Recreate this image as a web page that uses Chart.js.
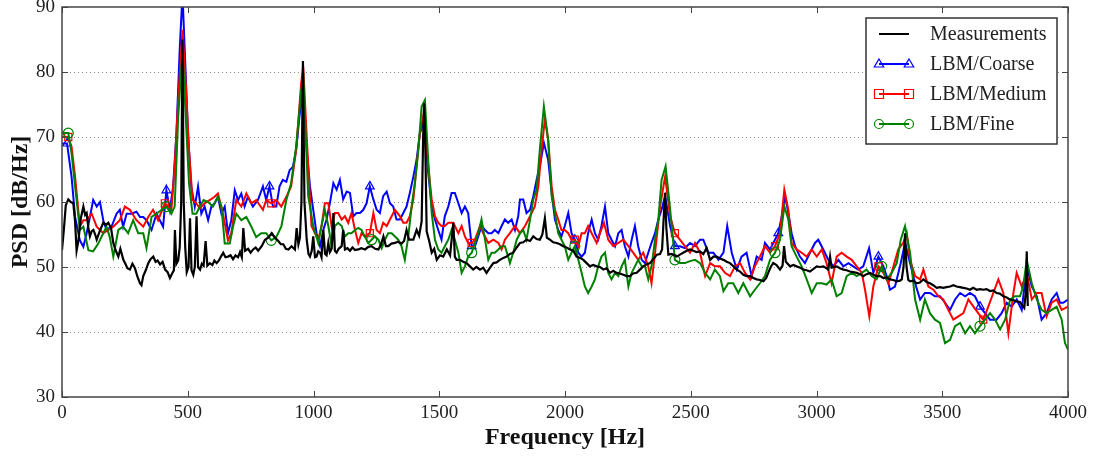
<!DOCTYPE html>
<html>
<head>
<meta charset="utf-8">
<script src="https://cdn.jsdelivr.net/npm/chart.js"></script>
<style>
  body { margin: 0; background: #fff; }
  canvas { display: block; }
</style>
</head>
<body>
<canvas id="psdChart" width="1096" height="457"></canvas>
<script>
// [frequency Hz, PSD dB/Hz]
const measurements = [
  [0,52.6],[8,56],[15,59.5],[25,60.4],[35,60.0],[45,59.8],[52,57],[58,52.5],[65,54],[75,57.5],[85,59.3],[92,58],[98,58.3],
  [105,56],[111,54.7],[118,55.5],[125,55.7],[132,55],[138,54.2],[150,55.5],[164,56.8],[175,56.5],[184,56.8],[195,56],
  [204,53.7],[214,52.5],[224,51.6],[232,52.8],[244,51.1],[252,50.5],[260,49.8],[270,49.6],[280,50.5],[290,49.8],[300,48.5],
  [310,47.5],[316,47.2],[323,48.6],[333,49.5],[343,50.6],[352,51.2],[363,51.6],[372,50.8],[380,51],[390,50.4],[400,50.8],
  [410,49.6],[420,49.2],[429,48.3],[438,49],[445,49.5],[449,55.7],[455,50.5],[462,51],[468,53],[474,60],[479,85],[484,60],
  [490,53],[496,49.2],[503,50],[509,57.5],[515,49.5],[522,48.8],[528,50],[535,57.8],[541,50],[549,49.6],[556,50.5],[563,50.2],
  [571,54],[578,50.2],[588,50.6],[598,50.3],[606,51],[615,50.6],[624,51],[632,51.6],[641,52.2],[650,51.5],[660,51.6],[670,51.8],
  [680,51.2],[690,51.8],[700,51.5],[708,52.3],[715,51.5],[721,56],[728,52.5],[740,52.8],[750,52.2],[760,52.7],[770,53],
  [780,52.5],[794,53.2],[807,54.2],[820,54.5],[834,55.2],[847,54.5],[860,54],[870,53.5],[880,53.5],[890,52.8],[900,52.7],
  [913,53.2],[926,52.7],[933,56],[940,53.5],[946,54.5],[952,60],[958,81.7],[964,60],[973,54.2],[980,52],[986,51.6],[993,52.5],
  [999,54.7],[1006,51.5],[1012,51.6],[1019,52.4],[1026,52.2],[1032,51.5],[1039,55.7],[1046,52],[1052,51.8],[1059,53.7],
  [1065,52.3],[1072,52.8],[1079,58.3],[1085,52.5],[1092,52.2],[1100,52.8],[1112,53.2],[1118,55.7],[1125,52.7],[1135,52.9],
  [1145,52.5],[1155,53],[1165,52.6],[1178,52.7],[1190,52.9],[1205,52.7],[1218,53.1],[1231,53.2],[1245,52.8],[1258,52.7],
  [1268,53.4],[1278,54.7],[1288,53.2],[1297,53.2],[1310,53.6],[1324,53.7],[1335,53.9],[1350,53.6],[1360,54],[1370,55.7],
  [1380,54.2],[1397,54.2],[1410,55.7],[1420,54.8],[1430,57],[1436,70],[1440,75.2],[1444,70],[1450,55.5],[1460,54],[1470,52.2],
  [1480,52.8],[1490,51.1],[1503,51.8],[1516,51.6],[1530,52.7],[1543,51.8],[1556,56.8],[1562,51.6],[1569,51.1],[1582,51.1],
  [1595,50.8],[1609,50.6],[1622,50.1],[1635,49.6],[1648,50.0],[1662,49.6],[1675,49.9],[1688,49.1],[1700,49.8],[1715,50.6],
  [1728,50.7],[1741,51.1],[1755,51.4],[1768,51.6],[1781,52.0],[1794,52.2],[1808,53.0],[1821,53.7],[1834,53.8],[1847,54.2],
  [1861,54.0],[1874,54.7],[1887,54.3],[1900,54.2],[1910,55.0],[1920,57.5],[1928,54.5],[1940,54.2],[1953,53.8],[1967,53.7],
  [1980,53.5],[1993,53.2],[2006,53.0],[2020,52.7],[2033,52.5],[2046,51.6],[2060,51.4],[2073,51.1],[2086,50.6],[2099,50.1],
  [2112,50.3],[2126,50.1],[2139,50.0],[2152,49.6],[2165,49.8],[2179,49.1],[2192,49.4],[2205,49.1],[2218,49.0],[2232,48.8],
  [2245,48.6],[2258,48.6],[2271,49.0],[2285,49.1],[2298,49.6],[2311,50.1],[2324,50.4],[2338,50.6],[2351,51.2],[2365,51.9],
  [2378,52.0],[2386,52.7],[2393,58],[2398,61.4],[2403,56],[2411,51.9],[2424,52.0],[2444,51.6],[2457,51.9],[2470,52.2],
  [2484,52.5],[2497,52.7],[2510,52.5],[2523,52.3],[2537,52.4],[2550,52.0],[2563,52.9],[2577,51.1],[2590,51.6],[2603,51.6],
  [2616,51.3],[2630,51.1],[2643,50.8],[2656,50.6],[2670,50.1],[2683,49.6],[2696,49.3],[2709,48.8],[2722,48.6],[2736,48.6],
  [2749,48.3],[2762,48.1],[2775,48.0],[2789,47.8],[2800,48.3],[2808,49.1],[2818,50.0],[2828,50.6],[2841,50.3],[2855,49.6],
  [2865,50.2],[2871,53.2],[2878,50.8],[2895,50.1],[2908,50.3],[2921,50.1],[2935,49.9],[2948,49.6],[2961,49.5],[2974,49.3],
  [2988,49.7],[3001,50.1],[3014,50.0],[3027,50.1],[3040,49.8],[3047,49.6],[3054,51.6],[3060,49.9],[3080,50.1],[3093,49.8],
  [3107,49.6],[3120,49.5],[3133,49.3],[3146,49.2],[3160,49.1],[3173,48.9],[3186,48.6],[3199,48.9],[3213,49.1],[3226,48.8],
  [3239,48.6],[3253,48.6],[3266,48.3],[3279,48.4],[3292,48.1],[3305,48.0],[3319,47.8],[3332,47.9],[3339,48.1],[3346,50],
  [3352,55.2],[3358,50],[3365,48.0],[3372,47.8],[3385,47.9],[3398,47.5],[3411,47.6],[3425,48.1],[3438,47.7],[3451,47.5],
  [3464,47.2],[3478,46.8],[3491,46.9],[3504,46.8],[3517,46.9],[3531,47.0],[3544,47.2],[3557,47.0],[3570,46.9],[3584,46.8],
  [3597,46.7],[3610,46.5],[3623,46.8],[3637,46.5],[3650,46.6],[3663,46.5],[3676,46.6],[3690,46.3],[3703,46.4],[3716,46.0],
  [3729,45.9],[3743,45.5],[3756,45.3],[3769,45.0],[3782,44.9],[3796,44.7],[3809,44.6],[3816,44.2],[3826,43.7],[3832,46],
  [3836,52.4],[3840,44]
];

const lbmCoarse = [
  [0,69.0],[20,69.0],[38,63.9],[52,57.7],[71,54.1],[85,53.1],[98,55.2],[111,57.7],[124,60.3],[138,59.3],[151,60.0],[164,57.2],
  [177,55.7],[197,56.2],[217,58.2],[230,58.8],[243,56.2],[257,58.2],[276,58.2],[296,58.5],[310,57.7],[323,57.7],[336,57.2],
  [356,55.7],[376,58.2],[389,57.2],[402,56.2],[415,61.8],[429,58.8],[442,62.4],[455,70.6],[468,83.4],[479,92],[488,83.4],
  [501,70.6],[514,62.4],[528,59.3],[541,62.4],[554,58.2],[567,59.3],[581,57.2],[594,59.3],[607,59.8],[620,60.8],[634,58.2],
  [647,59.3],[660,55.2],[673,57.2],[687,61.8],[700,60.3],[713,61.3],[726,59.3],[739,60.8],[759,59.3],[779,60.3],[799,62.4],
  [812,60.3],[825,62.4],[839,59.3],[852,59.3],[865,62.4],[878,63.4],[892,63.1],[905,64.9],[918,65.4],[931,68.0],[944,73.1],
  [958,77.3],[973,68.1],[986,62.4],[999,58.8],[1012,55.2],[1026,53.2],[1039,55.7],[1052,57.3],[1065,59.8],[1079,62.9],
  [1092,61.9],[1105,63.4],[1118,60.4],[1132,61.6],[1145,61.4],[1158,57.8],[1171,58.3],[1185,58.3],[1198,58.8],[1211,59.8],
  [1224,62.4],[1238,60.4],[1251,58.8],[1264,58.3],[1277,60.9],[1291,61.6],[1304,59.8],[1317,59.3],[1330,57.3],[1344,57.3],
  [1357,58.3],[1370,59.3],[1383,61.4],[1397,63.9],[1410,66.5],[1423,70.6],[1439,72.2],[1456,64.5],[1470,59.3],[1483,57.3],
  [1496,55.7],[1509,54.2],[1522,57.8],[1536,59.3],[1549,61.4],[1562,61.4],[1576,59.8],[1589,58.3],[1602,59.3],[1615,58.3],
  [1629,53.2],[1642,53.2],[1655,54.7],[1668,56.3],[1682,55.7],[1695,55.2],[1708,55.2],[1721,55.7],[1735,55.2],[1748,56.3],
  [1761,57.3],[1774,56.8],[1788,57.3],[1801,55.7],[1814,57.8],[1821,60.4],[1834,60.4],[1847,58.3],[1861,58.8],[1874,60.9],
  [1887,63.4],[1900,65.5],[1916,69.1],[1933,66.5],[1947,61.4],[1960,57.3],[1973,55.7],[1986,54.7],[1999,56.3],[2013,58.3],
  [2026,55.2],[2039,54.2],[2053,52.2],[2066,51.6],[2079,52.2],[2092,55.2],[2106,57.3],[2119,55.2],[2132,54.2],[2145,56.3],
  [2159,59.3],[2172,55.2],[2185,54.2],[2199,53.2],[2212,55.2],[2225,55.7],[2238,53.2],[2252,51.6],[2265,54.2],[2278,56.3],
  [2291,53.2],[2305,51.1],[2318,50.6],[2331,52.2],[2344,53.7],[2358,55.2],[2371,57.3],[2384,58.8],[2398,60.9],[2418,56.3],
  [2437,53.2],[2457,53.2],[2477,52.9],[2497,53.7],[2517,53.2],[2537,54.2],[2550,54.2],[2570,52.2],[2590,52.2],[2610,51.1],
  [2630,52.2],[2645,56.3],[2663,52.2],[2683,49.6],[2702,51.6],[2722,52.2],[2742,48.6],[2762,51.6],[2782,51.1],[2795,53.7],
  [2815,52.7],[2835,54.2],[2848,55.2],[2862,57.8],[2875,60.9],[2888,58.3],[2901,55.2],[2915,53.2],[2934,51.6],[2954,50.6],
  [2974,52.2],[2994,53.7],[3007,54.2],[3027,52.7],[3047,51.1],[3067,50.1],[3087,51.1],[3107,50.1],[3127,50.6],[3146,50.1],
  [3166,49.6],[3186,50.1],[3209,52.9],[3226,49.1],[3246,51.6],[3266,50.1],[3279,48.6],[3292,46.5],[3312,47.0],[3332,50.1],
  [3352,53.7],[3372,50.6],[3392,47.5],[3412,45.0],[3431,46.0],[3451,46.0],[3471,45.5],[3491,45.5],[3511,44.5],[3531,43.4],
  [3551,45.0],[3571,46.0],[3591,45.5],[3610,46.0],[3630,45.5],[3650,43.9],[3670,42.9],[3690,41.9],[3716,41.9],[3736,42.9],
  [3756,44.5],[3776,43.9],[3796,45.0],[3816,43.4],[3836,50.1],[3856,47.0],[3876,45.5],[3895,41.9],[3915,42.9],[3935,45.0],
  [3955,46.0],[3968,44.5],[3981,44.5],[4000,45.0]
];

const lbmMedium = [
  [0,70.0],[25,70.0],[38,68.5],[52,63.9],[71,56.2],[85,57.2],[98,57.2],[118,58.2],[138,56.2],[164,55.2],[184,55.7],[204,56.2],
  [230,57.2],[250,59.3],[270,58.8],[296,57.2],[323,56.2],[343,57.7],[362,58.8],[382,57.2],[409,59.8],[435,58.8],[448,65.4],
  [462,75.7],[479,86.5],[492,78.3],[505,68.0],[519,60.3],[534,59.8],[548,59.0],[567,59.8],[587,60.3],[607,60.8],[620,61.3],
  [640,58.2],[660,54.1],[673,55.2],[693,60.3],[713,59.3],[733,61.3],[753,59.8],[772,60.3],[799,58.8],[812,60.3],[832,59.8],
  [852,60.3],[872,59.3],[892,60.8],[911,62.4],[931,68.0],[951,78.3],[959,80.9],[979,65.5],[992,56.3],[1006,55.2],[1019,54.2],
  [1032,56.3],[1045,59.8],[1059,59.8],[1072,56.3],[1085,58.3],[1098,58.3],[1112,57.3],[1125,57.8],[1138,56.8],[1151,58.3],
  [1165,55.7],[1178,53.7],[1191,55.2],[1204,54.7],[1224,55.2],[1238,58.3],[1251,55.7],[1264,55.2],[1277,56.8],[1291,56.3],
  [1304,57.3],[1324,58.8],[1344,57.8],[1357,56.8],[1370,56.8],[1383,57.8],[1397,60.4],[1410,65.5],[1423,70.6],[1439,73.7],
  [1456,65.5],[1470,60.4],[1483,57.8],[1496,56.8],[1509,56.3],[1522,56.3],[1536,56.8],[1556,56.8],[1576,55.2],[1589,56.3],
  [1602,54.7],[1615,53.7],[1629,53.7],[1642,54.2],[1662,56.3],[1675,55.2],[1695,53.7],[1715,54.2],[1735,53.7],[1748,52.7],
  [1761,54.2],[1781,55.2],[1801,56.3],[1821,55.2],[1841,56.3],[1861,57.8],[1880,59.3],[1894,62.4],[1907,68.1],[1920,72.7],
  [1933,69.6],[1947,62.4],[1960,58.8],[1973,57.3],[1986,55.7],[1999,55.7],[2013,55.2],[2026,54.2],[2039,54.2],[2053,53.2],
  [2066,55.2],[2079,55.2],[2092,56.3],[2106,55.2],[2126,53.7],[2139,55.2],[2155,56.8],[2172,54.2],[2192,53.2],[2212,53.7],
  [2232,54.2],[2252,53.2],[2271,52.2],[2291,51.1],[2311,52.2],[2331,50.1],[2344,47.5],[2358,52.2],[2378,59.3],[2398,63.9],
  [2418,57.8],[2437,55.2],[2457,54.2],[2477,53.2],[2497,52.2],[2517,53.7],[2537,52.2],[2557,48.6],[2577,50.6],[2596,50.1],
  [2616,50.1],[2636,49.1],[2656,48.6],[2676,50.1],[2696,50.6],[2716,49.1],[2736,48.1],[2755,50.1],[2775,51.6],[2795,53.2],
  [2815,52.2],[2835,53.2],[2855,55.2],[2872,61.9],[2888,58.8],[2901,53.7],[2921,52.7],[2941,52.2],[2961,51.6],[2981,52.7],
  [3001,51.6],[3021,52.7],[3040,50.6],[3060,47.5],[3080,51.6],[3100,52.2],[3120,51.6],[3140,51.1],[3160,50.1],[3180,49.1],
  [3193,46.5],[3210,42.4],[3226,47.0],[3246,50.1],[3266,49.1],[3286,47.5],[3306,50.1],[3325,52.7],[3345,53.7],[3359,55.2],
  [3372,51.1],[3392,48.6],[3412,48.1],[3425,49.6],[3445,47.0],[3465,46.5],[3485,45.5],[3504,45.0],[3524,43.4],[3544,41.9],
  [3564,42.4],[3584,42.9],[3604,45.0],[3624,43.9],[3643,42.9],[3663,41.9],[3683,43.9],[3703,46.0],[3723,48.1],[3743,46.0],
  [3763,39.8],[3783,46.0],[3796,49.1],[3816,47.0],[3836,49.1],[3856,45.0],[3876,46.0],[3895,46.0],[3915,42.4],[3935,44.5],
  [3955,45.0],[3975,43.4],[4000,43.9]
];

const lbmFine = [
  [0,70.6],[25,70.6],[38,67.5],[52,62.4],[71,55.7],[85,56.2],[105,52.6],[124,52.4],[144,53.6],[164,55.2],[177,56.2],[190,54.6],
  [204,51.6],[224,55.7],[243,56.2],[263,55.2],[283,57.2],[303,55.2],[323,55.2],[336,52.9],[356,57.7],[376,58.2],[396,58.8],
  [415,59.3],[435,58.2],[448,59.3],[462,73.1],[479,83.4],[492,73.1],[505,62.9],[519,58.2],[534,58.2],[548,59.3],[563,60.3],
  [581,60.0],[600,59.3],[620,60.8],[634,59.3],[647,53.6],[667,53.6],[680,56.2],[693,58.2],[713,57.2],[733,57.7],[753,56.2],
  [772,54.6],[792,55.2],[812,55.2],[832,54.1],[852,54.6],[872,56.2],[892,60.3],[911,62.9],[931,68.5],[951,77.2],[960,78.8],
  [979,60.9],[999,56.3],[1019,53.7],[1032,56.3],[1045,58.8],[1059,56.3],[1072,53.2],[1085,56.3],[1098,56.8],[1112,56.3],
  [1125,54.7],[1138,55.2],[1151,55.2],[1165,55.7],[1178,56.0],[1191,55.7],[1204,54.7],[1218,53.7],[1231,54.2],[1244,54.7],
  [1258,54.2],[1271,52.9],[1284,54.2],[1297,55.2],[1311,55.2],[1324,54.7],[1337,54.2],[1350,53.2],[1363,51.1],[1377,54.7],
  [1390,59.3],[1403,62.9],[1417,68.1],[1430,74.7],[1443,75.7],[1456,66.5],[1470,58.3],[1483,54.2],[1496,52.7],[1509,52.2],
  [1522,53.2],[1536,54.2],[1549,55.7],[1562,54.2],[1576,52.2],[1589,49.1],[1602,50.1],[1615,51.6],[1629,52.2],[1642,53.7],
  [1655,55.2],[1668,57.3],[1682,54.2],[1695,51.1],[1708,52.2],[1721,52.2],[1735,52.7],[1748,53.2],[1761,53.2],[1774,51.6],
  [1781,50.6],[1794,52.2],[1808,54.2],[1821,55.2],[1834,55.7],[1847,54.2],[1861,57.3],[1874,60.4],[1887,61.9],[1900,68.1],
  [1916,74.7],[1933,69.6],[1947,60.9],[1960,58.3],[1973,55.2],[1986,54.2],[1999,53.2],[2013,51.1],[2026,52.2],[2039,53.2],
  [2053,51.1],[2066,49.1],[2079,47.0],[2092,46.0],[2106,47.0],[2119,48.1],[2132,50.1],[2145,51.6],[2159,52.2],[2172,49.1],
  [2185,48.1],[2199,49.1],[2212,48.6],[2225,50.1],[2238,51.1],[2252,47.0],[2265,49.1],[2278,50.1],[2291,51.1],[2305,50.1],
  [2318,50.1],[2331,48.1],[2344,50.1],[2358,54.2],[2371,57.3],[2384,63.4],[2400,65.5],[2417,59.3],[2437,51.1],[2457,50.6],
  [2477,50.6],[2497,50.9],[2517,51.1],[2537,50.6],[2557,49.1],[2577,48.1],[2596,49.6],[2616,48.6],[2630,46.3],[2649,47.5],
  [2669,47.5],[2689,46.0],[2709,47.5],[2736,45.5],[2755,46.5],[2775,47.5],[2795,48.6],[2815,51.1],[2835,52.2],[2855,54.2],
  [2872,59.3],[2888,57.3],[2901,53.2],[2921,51.6],[2941,50.1],[2961,48.1],[2981,46.0],[3001,47.5],[3021,47.5],[3040,47.3],
  [3060,48.1],[3080,45.5],[3100,46.0],[3120,48.6],[3140,49.1],[3160,48.6],[3180,49.1],[3199,49.6],[3219,48.6],[3239,48.1],
  [3259,50.1],[3279,48.1],[3299,49.1],[3319,50.6],[3335,54.2],[3352,56.3],[3372,52.2],[3392,45.0],[3412,41.9],[3431,45.0],
  [3451,42.9],[3471,41.9],[3491,41.4],[3511,38.3],[3531,38.8],[3551,40.9],[3571,41.4],[3591,39.8],[3610,40.9],[3630,39.8],
  [3650,40.9],[3670,41.9],[3690,42.9],[3710,41.9],[3730,40.4],[3750,41.9],[3770,45.0],[3789,45.5],[3809,45.5],[3822,47.0],
  [3836,51.1],[3856,47.5],[3876,45.0],[3895,43.4],[3915,42.9],[3935,43.4],[3955,43.9],[3975,41.9],[3988,38.3],[4000,37.3]
];

// frequencies where the open markers sit (markevery in the original)
const markerFreqs = [18, 418, 825, 1230, 1635, 2040, 2445, 2845, 3250, 3655];
const xTicks = [0, 500, 1000, 1500, 2000, 2500, 3000, 3500, 4000];
const yTicks = [30, 40, 50, 60, 70, 80, 90];
const seriesNames = ["Measurements", "LBM/Coarse", "LBM/Medium", "LBM/Fine"];
const seriesColors = ["#000000", "#0000ff", "#ff0000", "#008000"];
const seriesMarkers = [null, "triangle", "rect", "circle"];

const FONT = "'Liberation Serif', 'DejaVu Serif', serif";

function toPoints(arr) {
    return arr.map(p => ({ x: p[0], y: p[1] }));
}

// index of nearest sample for every marker frequency
function markerIndexes(arr) {
    const set = new Set();
    markerFreqs.forEach(f => {
        let best = 0;
        arr.forEach((p, i) => {
            if (Math.abs(p[0] - f) < Math.abs(arr[best][0] - f)) best = i;
        });
        set.add(best);
    });
    return set;
}

function lbmDataset(idx, arr) {
    const marks = markerIndexes(arr);
    return {
        label: seriesNames[idx],
        data: toPoints(arr),
        borderColor: seriesColors[idx],
        borderWidth: 2,
        pointStyle: seriesMarkers[idx],
        pointRadius: ctx => marks.has(ctx.dataIndex) ? 5 : 0,
        pointHoverRadius: 0,
        pointBorderColor: seriesColors[idx],
        pointBackgroundColor: "rgba(0,0,0,0)",
        pointBorderWidth: 1.2,
        tension: 0,
        order: 4 - idx
    };
}

function drawMarker(ctx, style, x, y, r) {
    ctx.beginPath();
    if (style === "triangle") {
        ctx.moveTo(x, y - r);
        ctx.lineTo(x + r * 0.95, y + r * 0.6);
        ctx.lineTo(x - r * 0.95, y + r * 0.6);
        ctx.closePath();
    } else if (style === "rect") {
        ctx.rect(x - r * 0.9, y - r * 0.9, r * 1.8, r * 1.8);
    } else {
        ctx.arc(x, y, r * 0.9, 0, Math.PI * 2);
    }
    ctx.stroke();
}

// dotted grid, boxed frame with inward ticks, and the boxed legend
const framePlugin = {
    id: "frame",
    beforeDatasetsDraw(chart) {
        const { ctx, chartArea: a, scales } = chart;
        ctx.save();
        ctx.strokeStyle = "#888";
        ctx.lineWidth = 1;
        ctx.setLineDash([1, 3]);
        yTicks.forEach(v => {
            if (v === 30 || v === 90) return;
            const y = Math.round(scales.y.getPixelForValue(v)) + 0.5;
            ctx.beginPath();
            ctx.moveTo(a.left, y);
            ctx.lineTo(a.right, y);
            ctx.stroke();
        });
        ctx.restore();
    },
    afterDatasetsDraw(chart) {
        const { ctx, chartArea: a, scales } = chart;
        ctx.save();
        ctx.strokeStyle = "#444";
        ctx.lineWidth = 1.5;
        ctx.strokeRect(a.left, a.top, a.right - a.left, a.bottom - a.top);
        ctx.lineWidth = 1;
        ctx.beginPath();
        xTicks.forEach(v => {
            const x = Math.round(scales.x.getPixelForValue(v)) + 0.5;
            ctx.moveTo(x, a.bottom); ctx.lineTo(x, a.bottom - 6);
            ctx.moveTo(x, a.top); ctx.lineTo(x, a.top + 6);
        });
        yTicks.forEach(v => {
            const y = Math.round(scales.y.getPixelForValue(v)) + 0.5;
            ctx.moveTo(a.left, y); ctx.lineTo(a.left + 6, y);
            ctx.moveTo(a.right, y); ctx.lineTo(a.right - 6, y);
        });
        ctx.stroke();

        // legend
        const lx = 866, ly = 18, lw = 191, lh = 126;
        ctx.fillStyle = "#fff";
        ctx.fillRect(lx, ly, lw, lh);
        ctx.strokeStyle = "#333";
        ctx.lineWidth = 1.5;
        ctx.strokeRect(lx, ly, lw, lh);
        ctx.font = "20px " + FONT;
        ctx.textBaseline = "middle";
        seriesNames.forEach((name, i) => {
            const y = ly + 16 + i * 30;
            ctx.strokeStyle = seriesColors[i];
            ctx.lineWidth = 2;
            ctx.beginPath();
            ctx.moveTo(879, y);
            ctx.lineTo(909, y);
            ctx.stroke();
            if (seriesMarkers[i]) {
                ctx.lineWidth = 1.2;
                drawMarker(ctx, seriesMarkers[i], 879, y, 5);
                drawMarker(ctx, seriesMarkers[i], 909, y, 5);
            }
            ctx.fillStyle = "#222";
            ctx.fillText(name, 930, y + 1);
        });
        ctx.restore();
    }
};

const chart = new Chart(document.getElementById("psdChart"), {
    type: "line",
    data: {
        datasets: [
            {
                label: seriesNames[0],
                data: toPoints(measurements),
                borderColor: seriesColors[0],
                borderWidth: 2.2,
                pointRadius: 0,
                tension: 0,
                order: 0
            },
            lbmDataset(1, lbmCoarse),
            lbmDataset(2, lbmMedium),
            lbmDataset(3, lbmFine)
        ]
    },
    options: {
        responsive: false,
        animation: false,
        layout: { padding: { top: 7, right: 28, left: 0, bottom: 0 } },
        plugins: {
            legend: { display: false },
            tooltip: { enabled: false }
        },
        scales: {
            x: {
                type: "linear",
                min: 0,
                max: 4000,
                afterBuildTicks: scale => { scale.ticks = xTicks.map(v => ({ value: v })); },
                afterFit: scale => {
                    scale.height = 60;
                    scale.paddingLeft = 0;
                    scale.paddingRight = 0;
                },
                grid: { display: false, drawTicks: false },
                border: { display: false },
                ticks: {
                    padding: 5,
                    maxRotation: 0,
                    color: "#222",
                    font: { family: FONT, size: 19 },
                    callback: v => String(v)
                },
                title: {
                    display: true,
                    text: "Frequency [Hz]",
                    color: "#111",
                    font: { family: FONT, size: 24, weight: "bold" },
                    padding: { top: 0, bottom: 5 }
                }
            },
            y: {
                min: 30,
                max: 90,
                afterBuildTicks: scale => { scale.ticks = yTicks.map(v => ({ value: v })); },
                afterFit: scale => {
                    scale.width = 62;
                    scale.paddingTop = 0;
                    scale.paddingBottom = 0;
                },
                grid: { display: false, drawTicks: false },
                border: { display: false },
                ticks: {
                    padding: 7,
                    color: "#222",
                    font: { family: FONT, size: 19 },
                    callback: v => String(v)
                },
                title: {
                    display: true,
                    text: "PSD [dB/Hz]",
                    color: "#111",
                    font: { family: FONT, size: 24, weight: "bold" },
                    padding: { top: 6, bottom: 0 }
                }
            }
        }
    },
    plugins: [framePlugin]
});
</script>
</body>
</html>
